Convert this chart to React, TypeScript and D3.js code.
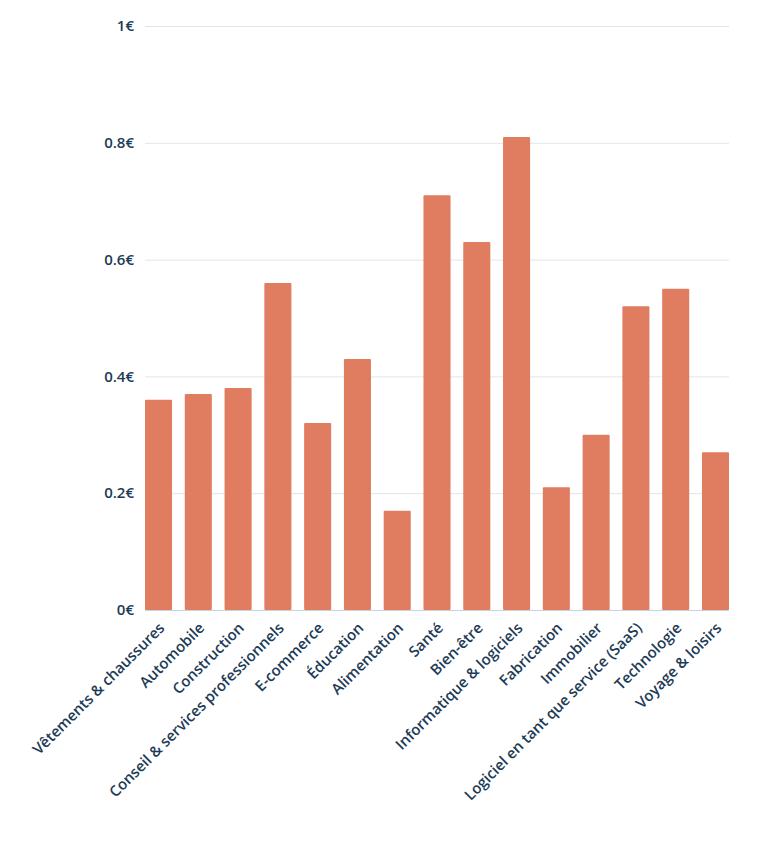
import React, { useRef, useEffect } from 'react';
import * as d3 from 'd3';

const categories = [
  'Vêtements & chaussures',
  'Automobile',
  'Construction',
  'Conseil & services professionnels',
  'E-commerce',
  'Éducation',
  'Alimentation',
  'Santé',
  'Bien-être',
  'Informatique & logiciels',
  'Fabrication',
  'Immobilier',
  'Logiciel en tant que service (SaaS)',
  'Technologie',
  'Voyage & loisirs',
];

const values = [0.36, 0.37, 0.38, 0.56, 0.32, 0.43, 0.17, 0.71, 0.63, 0.81, 0.21, 0.3, 0.52, 0.55, 0.27];

const yTicks = [0, 0.2, 0.4, 0.6, 0.8, 1];
const yTickLabels = ['0€', '0.2€', '0.4€', '0.6€', '0.8€', '1€'];

const W = 768;
const H = 851;
const left = 145;
const right = 729;
const top = 26;
const bottom = 610;
const textColor = '#1d3b56';
const font = '"Open Sans", sans-serif';

const App: React.FC = () => {
  const svgRef = useRef<SVGSVGElement | null>(null);

  useEffect(() => {
    document.body.style.margin = '0';
    const svg = d3.select(svgRef.current);
    svg.selectAll('*').remove();

    const x = d3.scaleBand()
      .domain(categories)
      .range([left, right])
      .paddingInner(0.32)
      .paddingOuter(0);

    const y = d3.scaleLinear()
      .domain([0, 1])
      .range([bottom, top]);

    // grid
    svg.append('g')
      .selectAll('line')
      .data(yTicks.slice(1))
      .enter()
      .append('line')
      .attr('x1', left)
      .attr('x2', right)
      .attr('y1', d => y(d) + 0.5)
      .attr('y2', d => y(d) + 0.5)
      .attr('stroke', '#e1e5ea')
      .attr('stroke-width', 1);

    // y labels
    svg.append('g')
      .selectAll('text')
      .data(yTicks)
      .enter()
      .append('text')
      .attr('x', left - 11)
      .attr('y', d => y(d))
      .attr('dy', '0.35em')
      .attr('text-anchor', 'end')
      .attr('fill', textColor)
      .style('font-family', font)
      .style('font-size', '15px')
      .style('font-weight', 600)
      .text((d, i) => yTickLabels[i]);

    // bars
    svg.append('g')
      .selectAll('rect')
      .data(values)
      .enter()
      .append('rect')
      .attr('x', (d, i) => x(categories[i]) ?? 0)
      .attr('y', d => y(d))
      .attr('width', x.bandwidth())
      .attr('height', d => bottom - y(d))
      .attr('rx', 1)
      .attr('fill', '#e07c60');

    // baseline
    svg.append('line')
      .attr('x1', left)
      .attr('x2', right)
      .attr('y1', bottom + 0.5)
      .attr('y2', bottom + 0.5)
      .attr('stroke', '#c9d3dd')
      .attr('stroke-width', 1);

    // x labels
    svg.append('g')
      .selectAll('text')
      .data(categories)
      .enter()
      .append('text')
      .attr('transform', d => `translate(${(x(d) ?? 0) + x.bandwidth() / 2 + 7},${bottom + 19}) rotate(-45)`)
      .attr('text-anchor', 'end')
      .attr('fill', textColor)
      .style('font-family', font)
      .style('font-size', '15px')
      .style('font-weight', 600)
      .text(d => d);
  }, []);

  return <svg ref={svgRef} width={W} height={H} style={{ display: 'block', background: '#fff' }}></svg>;
};

export default App;
